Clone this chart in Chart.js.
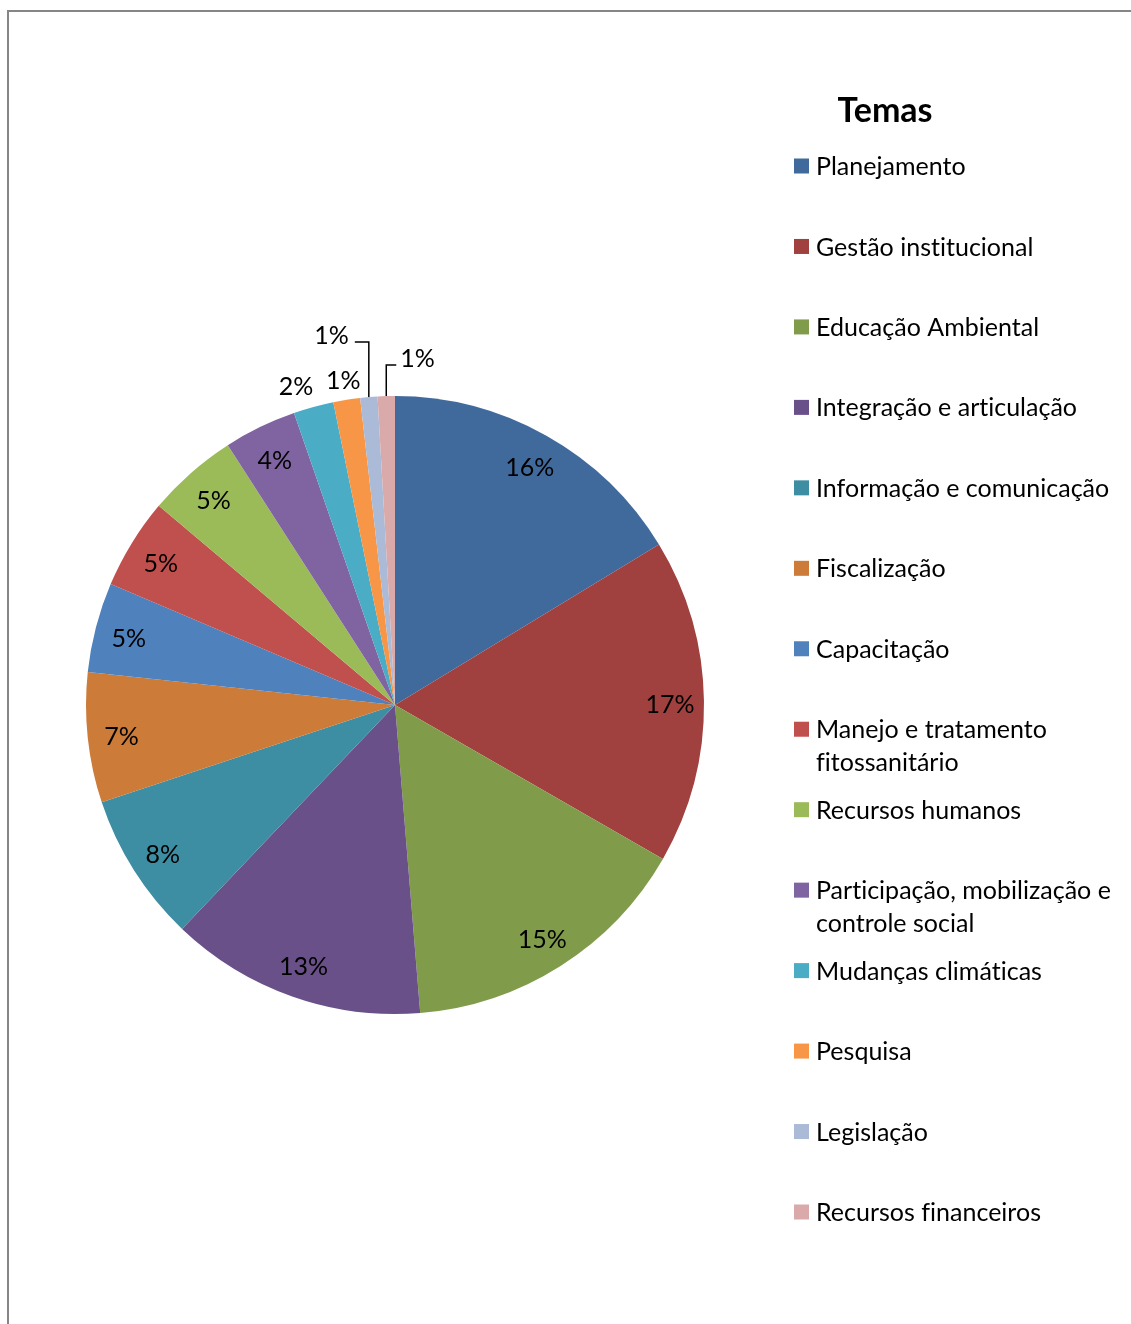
<!DOCTYPE html>
<html>
<head>
<meta charset="utf-8">
<script src="https://cdn.jsdelivr.net/npm/chart.js@4.4.0/dist/chart.umd.min.js"></script>
<style>
    html, body { margin: 0; padding: 0; background: #fff; }
    #wrap { position: relative; width: 1131px; height: 1324px; overflow: hidden; }
    #frame { position: absolute; left: 7px; top: 10px; right: -5px; bottom: -5px;
             border-left: 2px solid #868686; border-top: 2px solid #868686; pointer-events: none; }
</style>
</head>
<body>
<div id="wrap">
    <canvas id="temasChart" width="1131" height="1324"></canvas>
    <div id="frame"></div>
</div>
<script>
const titulo = 'Temas';
const temas = [
    'Planejamento',
    'Gestão institucional',
    'Educação Ambiental',
    'Integração e articulação',
    'Informação e comunicação',
    'Fiscalização',
    'Capacitação',
    'Manejo e tratamento fitossanitário',
    'Recursos humanos',
    'Participação, mobilização e controle social',
    'Mudanças climáticas',
    'Pesquisa',
    'Legislação',
    'Recursos financeiros'
];
const valores = [16.3, 17.0, 15.4, 13.4, 7.8, 6.8, 4.7, 4.75, 4.75, 3.8, 2.1, 1.4, 0.9, 0.9];
const cores = [
    '#416A9C', '#A0413F', '#809C4B', '#6A5089', '#3D8DA3', '#CC7B38', '#4F81BD',
    '#C0504D', '#9BBB59', '#8064A2', '#4BACC6', '#F79646', '#AABAD7', '#D9AAA9'
];
// where each percentage sits: inside, just outside, or on a leader line
const posRotulo = ['in', 'in', 'in', 'in', 'in', 'in', 'in', 'in', 'in', 'in',
    { fora: 24, dx: -11 }, { fora: 22, dx: 0 },
    { up: 55, side: -14 }, { up: 31, side: 10 }];

const FONTE = 'Lato, "Open Sans", sans-serif';

const rotulos = {
    id: 'rotulos',
    afterDatasetsDraw(chart) {
        const ctx = chart.ctx;
        const meta = chart.getDatasetMeta(0);
        const total = valores.reduce((a, b) => a + b, 0);
        ctx.save();
        ctx.font = '25px ' + FONTE;
        ctx.fillStyle = '#000';
        ctx.strokeStyle = '#000';
        ctx.lineWidth = 1.5;
        ctx.textBaseline = 'middle';
        meta.data.forEach((arc, i) => {
            const p = arc.getProps(['x', 'y', 'startAngle', 'endAngle', 'outerRadius'], true);
            const mid = (p.startAngle + p.endAngle) / 2;
            const txt = Math.round(valores[i] / total * 100) + '%';
            const modo = posRotulo[i];
            if (modo === 'in') {
                const r = p.outerRadius * 0.89;
                ctx.textAlign = 'center';
                ctx.fillText(txt, p.x + Math.cos(mid) * r, p.y + Math.sin(mid) * r + 3);
            } else if (modo.fora !== undefined) {
                const r = p.outerRadius + modo.fora;
                ctx.textAlign = 'center';
                ctx.fillText(txt, p.x + Math.cos(mid) * r + modo.dx, p.y + Math.sin(mid) * r + 3);
            } else {
                const x0 = p.x + Math.cos(mid) * p.outerRadius;
                const y0 = p.y + Math.sin(mid) * p.outerRadius;
                const y1 = y0 - modo.up;
                const x1 = x0 + modo.side;
                ctx.beginPath();
                ctx.moveTo(x0, y0);
                ctx.lineTo(x0, y1);
                ctx.lineTo(x1, y1);
                ctx.stroke();
                ctx.textAlign = modo.side < 0 ? 'right' : 'left';
                ctx.fillText(txt, x1 + (modo.side < 0 ? -6 : 4), y1 - 6);
            }
        });
        ctx.restore();
    }
};

function quebrar(ctx, texto, larg) {
    const palavras = texto.split(' ');
    const linhas = [];
    let atual = '';
    palavras.forEach(w => {
        const teste = atual ? atual + ' ' + w : w;
        if (ctx.measureText(teste).width > larg && atual) {
            linhas.push(atual);
            atual = w;
        } else {
            atual = teste;
        }
    });
    linhas.push(atual);
    return linhas;
}

const legenda = {
    id: 'legenda',
    afterDraw(chart) {
        const ctx = chart.ctx;
        ctx.save();
        ctx.fillStyle = '#000';
        ctx.textBaseline = 'middle';
        ctx.textAlign = 'center';
        ctx.font = 'bold 34px ' + FONTE;
        ctx.fillText(titulo, 885, 111);
        ctx.textAlign = 'left';
        ctx.font = '25px ' + FONTE;
        // a tiny letter spacing switches off Lato's fi / ti ligatures
        ctx.letterSpacing = '0.01px';
        const topo = 166, passo = (1212 - 166) / (temas.length - 1);
        temas.forEach((t, i) => {
            const y = topo + i * passo;
            ctx.fillStyle = cores[i];
            ctx.fillRect(794, y - 7.5, 15, 15);
            ctx.fillStyle = '#000';
            quebrar(ctx, t, 308).forEach((ln, k) => ctx.fillText(ln, 816, y + 1 + k * 33));
        });
        ctx.restore();
    }
};

const ctx = document.getElementById('temasChart').getContext('2d');
const temasChart = new Chart(ctx, {
    type: 'pie',
    data: {
        labels: temas,
        datasets: [{
            data: valores,
            backgroundColor: cores,
            borderWidth: 0
        }]
    },
    options: {
        responsive: false,
        animation: false,
        layout: { padding: { left: 86, right: 427, top: 396, bottom: 310 } },
        plugins: {
            legend: { display: false },
            tooltip: { enabled: false }
        }
    },
    plugins: [rotulos, legenda]
});
</script>
</body>
</html>
